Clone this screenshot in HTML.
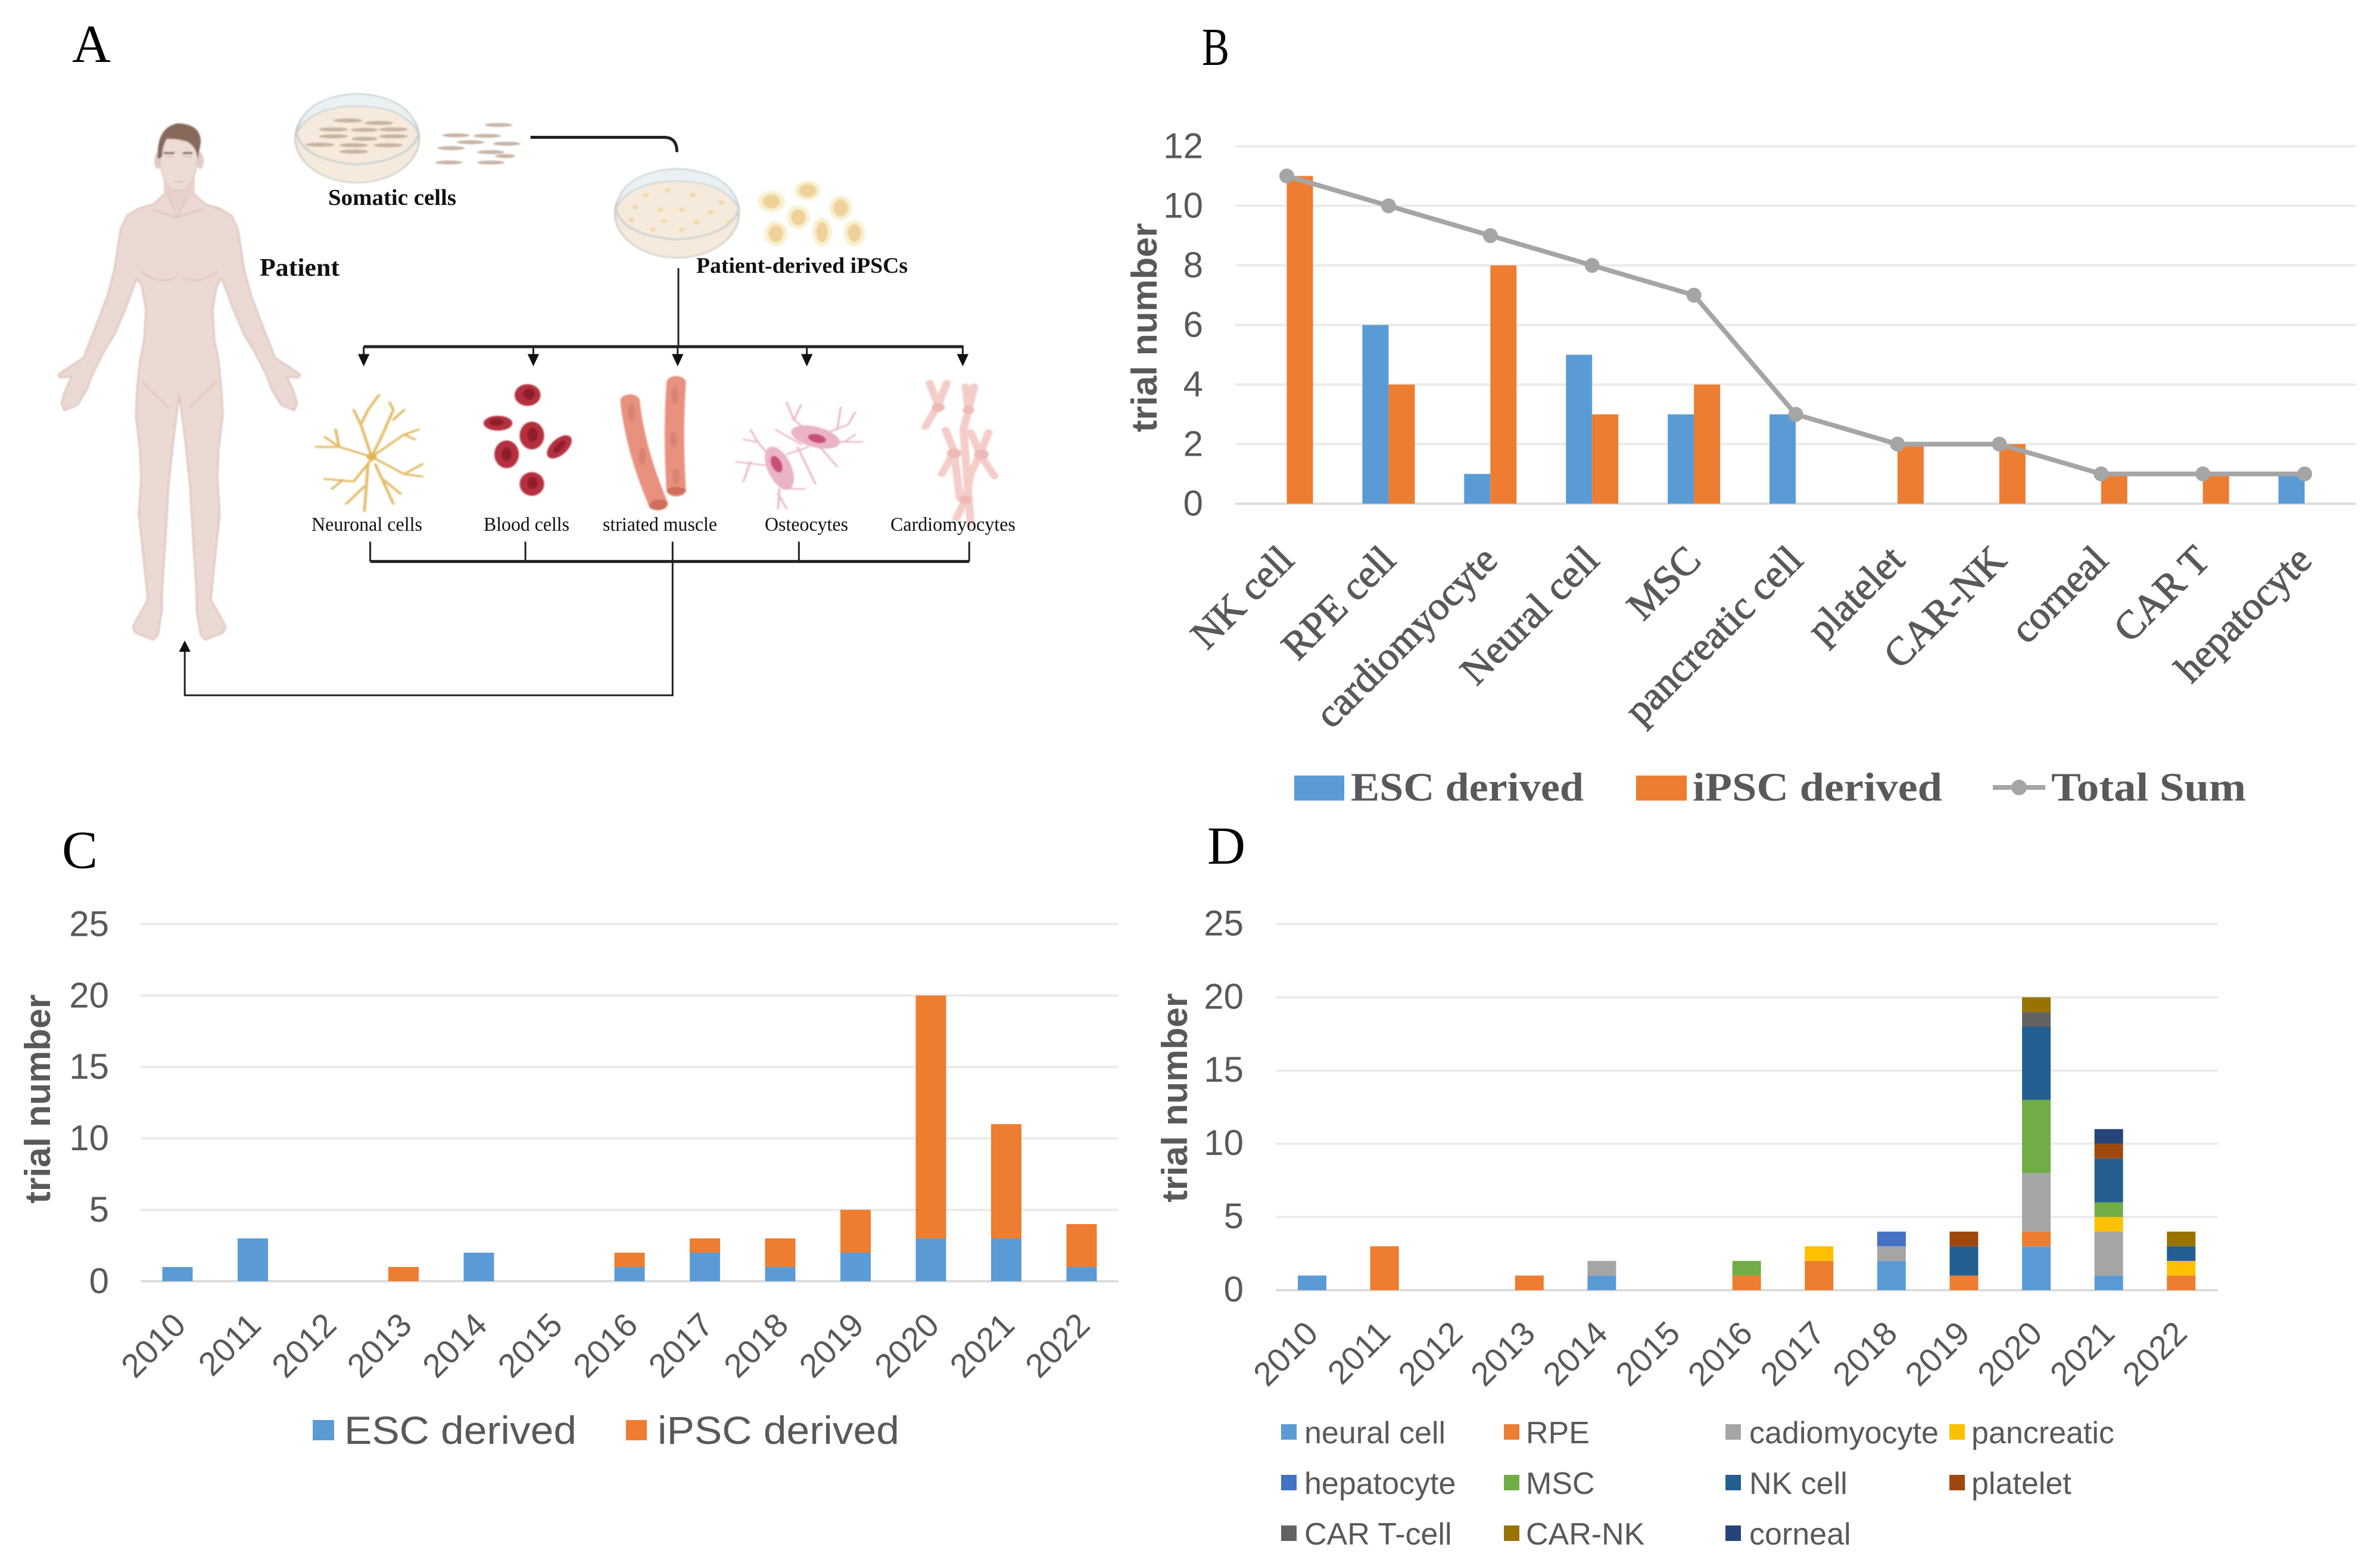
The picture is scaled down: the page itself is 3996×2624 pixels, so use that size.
<!DOCTYPE html>
<html lang="en">
<head>
<meta charset="utf-8">
<title>Stem cell derived trials figure</title>
<style>
html,body{margin:0;padding:0;background:#fff;width:3996px;height:2624px;overflow:hidden}
#figure{position:absolute;left:0;top:0;display:block}
.ax{font-family:"Liberation Sans",sans-serif;fill:#595959}
.se{font-family:"Liberation Serif",serif;fill:#595959}
.lbl{font-family:"Liberation Serif",serif;fill:#111}
.letter{font-family:"Liberation Serif",serif;fill:#000;font-size:90px}
</style>
</head>
<body>
<svg id="figure" xmlns="http://www.w3.org/2000/svg" width="3996" height="2624" viewBox="0 0 3996 2624">
<rect width="3996" height="2624" fill="#ffffff"/>

<text class="letter" x="121" y="104">A</text>
<text class="letter" x="2018" y="109" textLength="46" lengthAdjust="spacingAndGlyphs">B</text>
<text class="letter" x="104" y="1457">C</text>
<text class="letter" x="2027" y="1450" textLength="64" lengthAdjust="spacingAndGlyphs">D</text>

<g id="panel-a">
 <g style="filter:blur(1.2px)">
  <g fill="#ebd9d4" stroke="#e2c7c1" stroke-width="3" stroke-linejoin="round">
   <path d="M301 330 L275 327 L257 343 L233 350 L213 362 L203 383 L198 413 L192 453 L180 497 L160 550 L140 601 L118 615 L98 629 L101 634 L120 632 L108 660 L103 677 L108 689 L130 680 L145 655 L157 625 L175 590 L193 560 L210 520 L230 467 L238 480 L245 520 L243 553 L242 570 L235 605 L230 656 L228 698 L235 756 L237 801 L233 863 L238 910 L243 956 L248 1007 L235 1030 L223 1052 L227 1062 L257 1074 L265 1066 L272 1024 L272 997 L280 870 L283 815 L292 732 L300 670 L302 667 Z"/>
   <path transform="translate(602 0) scale(-1 1)" d="M301 330 L275 327 L257 343 L233 350 L213 362 L203 383 L198 413 L192 453 L180 497 L160 550 L140 601 L118 615 L98 629 L101 634 L120 632 L108 660 L103 677 L108 689 L130 680 L145 655 L157 625 L175 590 L193 560 L210 520 L230 467 L238 480 L245 520 L243 553 L242 570 L235 605 L230 656 L228 698 L235 756 L237 801 L233 863 L238 910 L243 956 L248 1007 L235 1030 L223 1052 L227 1062 L257 1074 L265 1066 L272 1024 L272 997 L280 870 L283 815 L292 732 L300 670 L302 667 Z"/>
  </g>
  <rect x="276" y="330" width="50" height="330" fill="#ebd9d4"/>
  <path d="M275 293 H327 V327 L300 355 L275 327Z" fill="#e8d2cc"/>
  <ellipse cx="265" cy="270" rx="6" ry="14" fill="#e3cbc5"/><ellipse cx="336" cy="270" rx="6" ry="14" fill="#e3cbc5"/>
  <path d="M268 250 Q268 300 286 316 Q300 324 314 316 Q332 300 332 250 Q330 215 300 212 Q270 215 268 250Z" fill="#ecdcd6" stroke="#e0c8c1" stroke-width="2"/>
  <path d="M265 267 Q262 214 298 207 Q338 208 337 240 L332 267 Q330 245 313 237 Q295 232 280 233 Q272 245 272 263Z" fill="#86695a"/>
  <path d="M275 257 H293 M307 257 H323" stroke="#7f6a60" stroke-width="3" fill="none"/>
  <path d="M278 263 H292 M308 263 H322 M292 305 H308" stroke="#cfb7af" stroke-width="1.5" fill="none"/>
  <path d="M255 352 L298 365 L343 350 M283 330 L298 365 L313 330 M235 455 Q270 480 296 465 M366 455 Q332 480 306 465 M238 640 L284 685 M364 640 L318 685" fill="none" stroke="#dcc0b9" stroke-width="2"/>
 </g>

 <g transform="scale(1.2117 0.829)" style="filter:blur(1.2px)">
  <g>
   <ellipse cx="495" cy="280" rx="86" ry="90" fill="#f5eadb" stroke="#cfcdc8" stroke-width="2.5"/>
   <path d="M411 270 Q420 195 495 190 Q570 195 580 270 Q560 215 495 215 Q430 215 411 270Z" fill="#e9f1f2" stroke="#c5ced2" stroke-width="2"/>
   <path d="M411 270 Q420 325 495 333 Q570 325 580 270" fill="none" stroke="#c9cfd0" stroke-width="3"/>
   <g fill="#bfa999" opacity="0.85">
    <ellipse cx="482" cy="244" rx="20" ry="4"/><ellipse cx="525" cy="249" rx="20" ry="4"/><ellipse cx="462" cy="262" rx="20" ry="4"/><ellipse cx="505" cy="263" rx="19" ry="4"/><ellipse cx="545" cy="262" rx="20" ry="4"/><ellipse cx="462" cy="276" rx="20" ry="4"/><ellipse cx="505" cy="281" rx="18" ry="4"/><ellipse cx="545" cy="276" rx="20" ry="4"/><ellipse cx="443" cy="293" rx="20" ry="4"/><ellipse cx="490" cy="294" rx="20" ry="4"/><ellipse cx="538" cy="294" rx="20" ry="4"/><ellipse cx="490" cy="307" rx="20" ry="4"/>
   </g>
  </g>
  <g fill="#c9b5a6">
   <ellipse cx="691" cy="253" rx="19" ry="4"/><ellipse cx="632" cy="274" rx="19" ry="4"/><ellipse cx="675" cy="275" rx="19" ry="4"/><ellipse cx="652" cy="288" rx="19" ry="4"/><ellipse cx="702" cy="291" rx="19" ry="4"/><ellipse cx="625" cy="300" rx="19" ry="4"/><ellipse cx="680" cy="308" rx="19" ry="4"/><ellipse cx="700" cy="316" rx="14" ry="4"/><ellipse cx="622" cy="329" rx="19" ry="4"/><ellipse cx="680" cy="329" rx="19" ry="4"/>
  </g>

  <g>
   <ellipse cx="938" cy="432" rx="86" ry="90" fill="#f5eadb" stroke="#cfcdc8" stroke-width="2.5"/>
   <path d="M853 422 Q862 347 938 342 Q1014 347 1024 422 Q1003 367 938 367 Q873 367 853 422Z" fill="#e9f1f2" stroke="#c5ced2" stroke-width="2"/>
   <path d="M853 422 Q862 477 938 485 Q1014 477 1024 422" fill="none" stroke="#c9cfd0" stroke-width="3"/>
   <g fill="#f0d7a8">
    <circle cx="895" cy="395" r="4"/><circle cx="925" cy="385" r="4"/><circle cx="960" cy="395" r="4"/><circle cx="1000" cy="410" r="4"/><circle cx="880" cy="420" r="4"/><circle cx="915" cy="425" r="4"/><circle cx="945" cy="425" r="4"/><circle cx="985" cy="430" r="4"/><circle cx="875" cy="445" r="4"/><circle cx="920" cy="448" r="4"/><circle cx="965" cy="450" r="4"/><circle cx="1010" cy="450" r="4"/><circle cx="905" cy="465" r="4"/><circle cx="945" cy="465" r="4"/>
   </g>
  </g>
  <g>
   <g fill="#f8f0d0">
    <ellipse cx="1069" cy="408" rx="19" ry="22"/><ellipse cx="1119" cy="386" rx="18" ry="20"/><ellipse cx="1165" cy="421" rx="16" ry="25"/><ellipse cx="1106" cy="440" rx="16" ry="24"/><ellipse cx="1075" cy="473" rx="16" ry="25"/><ellipse cx="1139" cy="470" rx="14" ry="29"/><ellipse cx="1184" cy="472" rx="15" ry="27"/>
   </g>
   <g fill="#efd29a">
    <ellipse cx="1069" cy="408" rx="12" ry="14"/><ellipse cx="1119" cy="386" rx="12" ry="13"/><ellipse cx="1165" cy="421" rx="10" ry="17"/><ellipse cx="1106" cy="440" rx="10" ry="16"/><ellipse cx="1075" cy="473" rx="10" ry="17"/><ellipse cx="1139" cy="470" rx="8" ry="20"/><ellipse cx="1184" cy="472" rx="9" ry="18"/>
   </g>
  </g>

  <g fill="none" stroke="#e3bd6a" stroke-width="4" stroke-linecap="round" stroke-linejoin="round">
   <path d="M515 925 L500 860 L490 830 M500 860 L510 830 L525 800 M515 925 L530 880 L545 830 L540 815 M545 850 L560 830 M520 920 L560 880 L580 870 M560 880 L575 890 M515 925 L470 905 L438 905 M470 905 L450 885 M470 905 L465 870 M515 925 L560 960 L585 940 M560 960 L585 965 M515 930 L490 975 L450 970 M475 972 L460 990 M510 940 L505 1035 M505 985 L480 1020 M520 940 L545 1020 M530 970 L555 1000"/>
   <circle cx="515" cy="925" r="7" fill="#dfb54f" stroke="none"/>
  </g>

  <g fill="#b5303f">
   <ellipse cx="731" cy="800" rx="18" ry="22"/><ellipse cx="690" cy="857" rx="20" ry="15"/><ellipse cx="737" cy="882" rx="17" ry="28"/><ellipse cx="702" cy="920" rx="17" ry="28"/><ellipse cx="775" cy="905" rx="13" ry="26" transform="rotate(30 775 905)"/><ellipse cx="737" cy="980" rx="17" ry="24"/>
   <g fill="#8f1d2c"><ellipse cx="733" cy="798" rx="8" ry="11"/><ellipse cx="688" cy="855" rx="10" ry="7"/><ellipse cx="738" cy="880" rx="7" ry="14"/><ellipse cx="702" cy="920" rx="7" ry="14"/><ellipse cx="775" cy="905" rx="5" ry="14" transform="rotate(30 775 905)"/><ellipse cx="738" cy="978" rx="7" ry="12"/></g>
  </g>

  <g>
   <g fill="none" stroke="#e8917e" stroke-width="27" stroke-linecap="round">
    <path d="M873 812 Q880 910 912 1020"/>
    <path d="M937 775 Q932 880 937 992"/>
   </g>
   <ellipse cx="912" cy="1022" rx="13" ry="10" fill="#cf6e5a" transform="rotate(-20 912 1022)"/>
   <ellipse cx="937" cy="994" rx="13" ry="8" fill="#cf6e5a"/>
   <g fill="#d98472"><ellipse cx="875" cy="835" rx="5" ry="18"/><ellipse cx="890" cy="925" rx="5" ry="18"/><ellipse cx="935" cy="800" rx="5" ry="18"/><ellipse cx="933" cy="890" rx="5" ry="16"/><ellipse cx="937" cy="965" rx="5" ry="16"/></g>
  </g>

  <g>
   <g fill="none" stroke="#ecb9c9" stroke-width="3" stroke-linecap="round">
    <path d="M1130 885 L1100 850 L1090 815 M1100 850 L1110 820 M1130 885 L1175 860 L1185 835 M1160 870 L1165 825 M1140 895 L1195 895 M1170 895 L1185 880 M1130 895 L1160 945 M1110 900 L1075 870 M1105 905 L1130 980 M1078 945 L1050 895 L1030 890 M1050 895 L1040 870 M1075 945 L1020 935 M1040 935 L1030 975 M1085 990 L1115 990 M1080 990 L1078 1030 M1078 1000 L1090 1030 M1090 920 L1120 905"/>
   </g>
   <ellipse cx="1130" cy="885" rx="36" ry="20" fill="#eab4c6" transform="rotate(25 1130 885)"/>
   <ellipse cx="1080" cy="948" rx="17" ry="45" fill="#eab4c6" transform="rotate(-15 1080 948)"/>
   <ellipse cx="1132" cy="888" rx="13" ry="8" fill="#c94f73" transform="rotate(25 1132 888)"/>
   <ellipse cx="1076" cy="940" rx="7" ry="17" fill="#c94f73" transform="rotate(-15 1076 940)"/>
  </g>

  <g fill="none" stroke="#f4cdc9" stroke-width="11" stroke-linecap="round" stroke-linejoin="round">
   <path d="M1288 775 L1300 820 L1312 775 M1300 820 L1282 865 M1338 782 L1342 830 L1350 782 M1342 830 L1335 870 L1345 1060 M1310 870 L1322 915 L1305 960 M1322 915 L1330 1010 M1370 875 L1358 920 L1378 965 M1345 875 L1358 920 L1345 960 L1338 1010 L1325 1050"/>
   <circle cx="1300" cy="825" r="9" fill="#efb9b6" stroke="none"/><circle cx="1342" cy="830" r="8" fill="#efb9b6" stroke="none"/><circle cx="1322" cy="918" r="10" fill="#efb9b6" stroke="none"/><circle cx="1360" cy="920" r="10" fill="#efb9b6" stroke="none"/><circle cx="1338" cy="1012" r="9" fill="#efb9b6" stroke="none"/>
  </g>
 </g>

 <g transform="scale(1.2117 0.829)" fill="none" stroke="#222" stroke-width="3">
  <path vector-effect="non-scaling-stroke" stroke-width="5" d="M735 278 L920 278 Q938 278 938 308"/>
  <path vector-effect="non-scaling-stroke" d="M940 543 L940 702"/>
  <path vector-effect="non-scaling-stroke" stroke-width="5" d="M504 702 L1335 702"/>
  <path vector-effect="non-scaling-stroke" d="M504 702 V725 M739 702 V725 M939 702 V725 M1118 702 V725 M1334 702 V725"/>
  <path fill="#111" stroke="none" d="M496 717 H512 L504 742Z M731 717 H747 L739 742Z M931 717 H947 L939 742Z M1110 717 H1126 L1118 742Z M1326 717 H1342 L1334 742Z"/>
  <path vector-effect="non-scaling-stroke" d="M513 1097 V1137 M728 1097 V1137 M1107 1097 V1137 M1343 1097 V1137"/>
  <path vector-effect="non-scaling-stroke" stroke-width="5" d="M513 1137 H1343"/>
  <path vector-effect="non-scaling-stroke" d="M932 1097 V1408 H256 V1315"/>
  <path fill="#111" stroke="none" d="M248 1320 H264 L256 1297Z"/>
 </g>

 <text class="lbl" x="551" y="344" font-size="38" font-weight="bold" textLength="215" lengthAdjust="spacingAndGlyphs">Somatic cells</text>
 <text class="lbl" x="436" y="463" font-size="42" font-weight="bold" textLength="134" lengthAdjust="spacingAndGlyphs">Patient</text>
 <text class="lbl" x="1169" y="458" font-size="37" font-weight="bold" textLength="355" lengthAdjust="spacingAndGlyphs">Patient-derived iPSCs</text>
 <text class="lbl" x="523" y="891" font-size="33" textLength="186" lengthAdjust="spacingAndGlyphs">Neuronal cells</text>
 <text class="lbl" x="812" y="891" font-size="33" textLength="144" lengthAdjust="spacingAndGlyphs">Blood cells</text>
 <text class="lbl" x="1012" y="891" font-size="33" textLength="192" lengthAdjust="spacingAndGlyphs">striated muscle</text>
 <text class="lbl" x="1284" y="891" font-size="33" textLength="140" lengthAdjust="spacingAndGlyphs">Osteocytes</text>
 <text class="lbl" x="1495" y="891" font-size="33" textLength="210" lengthAdjust="spacingAndGlyphs">Cardiomyocytes</text>
</g>

<g id="panel-b">
 <text class="ax" transform="translate(1942 550) rotate(-90)" text-anchor="middle" font-size="60" font-weight="bold" textLength="351" lengthAdjust="spacingAndGlyphs">trial number</text>
 <g>
  <rect x="2173" y="1302" width="84" height="42" fill="#5b9bd5"/>
  <text class="se" x="2268" y="1344" font-size="68" font-weight="bold" textLength="391" lengthAdjust="spacingAndGlyphs">ESC derived</text>
  <rect x="2747" y="1302" width="85" height="42" fill="#ed7d31"/>
  <text class="se" x="2842" y="1344" font-size="68" font-weight="bold" textLength="419" lengthAdjust="spacingAndGlyphs">iPSC derived</text>
  <line x1="3346" y1="1322" x2="3434" y2="1322" stroke="#a5a5a5" stroke-width="8"/>
  <circle cx="3390" cy="1322" r="13" fill="#a5a5a5"/>
  <text class="se" x="3444" y="1344" font-size="68" font-weight="bold" textLength="327" lengthAdjust="spacingAndGlyphs">Total Sum</text>
 </g>
</g>

<g id="panel-c">
 <text class="ax" transform="translate(84 1845) rotate(-90)" text-anchor="middle" font-size="60" font-weight="bold" textLength="351" lengthAdjust="spacingAndGlyphs">trial number</text>
 <g>
  <rect x="525" y="2384" width="36" height="34" fill="#5b9bd5"/>
  <text class="ax" x="578" y="2424" font-size="66" textLength="390" lengthAdjust="spacingAndGlyphs">ESC derived</text>
  <rect x="1051" y="2384" width="35" height="34" fill="#ed7d31"/>
  <text class="ax" x="1104" y="2424" font-size="66" textLength="406" lengthAdjust="spacingAndGlyphs">iPSC derived</text>
 </g>
</g>

<g id="panel-d">
 <text class="ax" transform="translate(1993 1843) rotate(-90)" text-anchor="middle" font-size="60" font-weight="bold" textLength="351" lengthAdjust="spacingAndGlyphs">trial number</text>
 <g font-size="52">
  <rect x="2151" y="2391" width="26" height="26" fill="#5b9bd5"/>
  <text class="ax" x="2190" y="2423">neural cell</text>
  <rect x="2525" y="2391" width="26" height="26" fill="#ed7d31"/>
  <text class="ax" x="2562" y="2423">RPE</text>
  <rect x="2897" y="2391" width="26" height="26" fill="#a5a5a5"/>
  <text class="ax" x="2937" y="2423">cadiomyocyte</text>
  <rect x="3273" y="2391" width="26" height="26" fill="#ffc000"/>
  <text class="ax" x="3310" y="2423">pancreatic</text>
  <rect x="2151" y="2476" width="26" height="26" fill="#4472c4"/>
  <text class="ax" x="2190" y="2508">hepatocyte</text>
  <rect x="2525" y="2476" width="26" height="26" fill="#70ad47"/>
  <text class="ax" x="2562" y="2508">MSC</text>
  <rect x="2897" y="2476" width="26" height="26" fill="#255e91"/>
  <text class="ax" x="2937" y="2508">NK cell</text>
  <rect x="3273" y="2476" width="26" height="26" fill="#9e480e"/>
  <text class="ax" x="3310" y="2508">platelet</text>
  <rect x="2151" y="2561" width="26" height="26" fill="#636363"/>
  <text class="ax" x="2190" y="2593">CAR T-cell</text>
  <rect x="2525" y="2561" width="26" height="26" fill="#997300"/>
  <text class="ax" x="2562" y="2593">CAR-NK</text>
  <rect x="2897" y="2561" width="26" height="26" fill="#264478"/>
  <text class="ax" x="2937" y="2593">corneal</text>
 </g>
</g>
</svg>

<script>
// Panel B data
const bCategories = ['NK cell','RPE cell','cardiomyocyte','Neural cell','MSC','pancreatic cell','platelet','CAR-NK','corneal','CAR T','hepatocyte'];
const bEsc = [0,6,1,5,3,3,0,0,0,0,1];
const bIpsc = [11,4,8,3,4,0,2,2,1,1,0];
const bTotal = [11,10,9,8,7,3,2,2,1,1,1];
const bTicks = [0,2,4,6,8,10,12];

// Panel C data
const cYears = ['2010','2011','2012','2013','2014','2015','2016','2017','2018','2019','2020','2021','2022'];
const cEsc = [1,3,0,0,2,0,1,2,1,2,3,3,1];
const cIpsc = [0,0,0,1,0,0,1,1,2,3,17,8,3];
const cTicks = [0,5,10,15,20,25];

// Panel D data
const dYears = ['2010','2011','2012','2013','2014','2015','2016','2017','2018','2019','2020','2021','2022'];
const dNeural =     [1,0,0,0,1,0,0,0,2,0,3,1,0];
const dRpe =        [0,3,0,1,0,0,1,2,0,1,1,0,1];
const dCardio =     [0,0,0,0,1,0,0,0,1,0,4,3,0];
const dPancreatic = [0,0,0,0,0,0,0,1,0,0,0,1,1];
const dHepatocyte = [0,0,0,0,0,0,0,0,1,0,0,0,0];
const dMsc =        [0,0,0,0,0,0,1,0,0,0,5,1,0];
const dNk =         [0,0,0,0,0,0,0,0,0,2,5,3,1];
const dPlatelet =   [0,0,0,0,0,0,0,0,0,1,0,1,0];
const dCarT =       [0,0,0,0,0,0,0,0,0,0,1,0,0];
const dCarNk =      [0,0,0,0,0,0,0,0,0,0,1,0,1];
const dCorneal =    [0,0,0,0,0,0,0,0,0,0,0,1,0];
const dSeriesValues = [dNeural,dRpe,dCardio,dPancreatic,dHepatocyte,dMsc,dNk,dPlatelet,dCarT,dCarNk,dCorneal];
const dSeriesKeys = ['neural','rpe','cardiomyocyte','pancreatic','hepatocyte','msc','nk-cell','platelet','car-t-cell','car-nk','corneal'];
const dSeriesColors = ['#5b9bd5','#ed7d31','#a5a5a5','#ffc000','#4472c4','#70ad47','#255e91','#9e480e','#636363','#997300','#264478'];
const dTicks = [0,5,10,15,20,25];

const SVG_NS = 'http://www.w3.org/2000/svg';
function mk(tag, attrs, parent) {
  const el = document.createElementNS(SVG_NS, tag);
  for (const k in attrs) el.setAttribute(k, attrs[k]);
  parent.appendChild(el);
  return el;
}

// Axis functions
function bY(v) { return 845.6 - v * (845.6 - 245.5) / 12; }
function bX(i) { return 2160.5 + i * 170.9; }
function cY(v) { return 2151 - v * (2151 - 1551.4) / 25; }
function cX(i) { return 298 + i * 126.5; }
function dY(v) { return 2166 - v * (2166 - 1551.4) / 25; }
function dX(i) { return 2203 + i * 121.6; }

function drawGrid(panel, prefix, ticks, yFn, x1, x2, labelRight, labelShift) {
  const g = mk('g', {}, panel);
  
  
  ticks.forEach(function (t) {
    const line = mk('line', {x1: x1, x2: x2, y1: yFn(t), y2: yFn(t), stroke: t === 0 ? '#dcdcdc' : '#ebebeb', 'stroke-width': 4}, g);
    
    
    const label = mk('text', {x: labelRight, y: yFn(t) + labelShift, 'text-anchor': 'end', 'font-size': 60, 'class': 'ax'}, g);
    label.textContent = String(t);
    
    
  });
}

function drawCategoryLabels(panel, prefix, cats, xFn, dx, y, cls, size, extra) {
  const g = mk('g', {}, panel);
  
  
  cats.forEach(function (c, i) {
    const px = xFn(i) + dx;
    const attrs = Object.assign({'transform': 'translate(' + px + ' ' + y + ') rotate(-45)', 'text-anchor': 'end', 'font-size': size, 'class': cls}, extra);
    const label = mk('text', attrs, g);
    label.textContent = c;
    
    
  });
}

// Panel B
(function () {
  const panel = document.getElementById('panel-b');
  drawGrid(panel, 'b', bTicks, bY, 2074, 3956, 2020, 20);
  const barWidth = 44;
  bCategories.forEach(function (c, i) {
    if (bEsc[i] > 0) {
      const r = mk('rect', {x: bX(i) - barWidth, y: bY(bEsc[i]), width: barWidth, height: bY(0) - bY(bEsc[i]), fill: '#5b9bd5'}, panel);
      
      
    }
    if (bIpsc[i] > 0) {
      const r2 = mk('rect', {x: bX(i), y: bY(bIpsc[i]), width: barWidth, height: bY(0) - bY(bIpsc[i]), fill: '#ed7d31'}, panel);
      
      
    }
  });
  const pts = bTotal.map(function (v, i) { return bX(i) + ',' + bY(v); }).join(' ');
  const line = mk('polyline', {points: pts, fill: 'none', stroke: '#a5a5a5', 'stroke-width': 8, 'stroke-linejoin': 'round'}, panel);
  
  
  bTotal.forEach(function (v, i) {
    const p = mk('circle', {cx: bX(i), cy: bY(v), r: 12.5, fill: '#a5a5a5'}, panel);
    
    
  });
  drawCategoryLabels(panel, 'b', bCategories, bX, 15, 944, 'se', 67, {'stroke': '#595959', 'stroke-width': 1.3});
})();

// Panel C
(function () {
  const panel = document.getElementById('panel-c');
  drawGrid(panel, 'c', cTicks, cY, 236, 1878, 183, 20);
  const barWidth = 51;
  cYears.forEach(function (yr, i) {
    if (cEsc[i] > 0) {
      const r = mk('rect', {x: cX(i) - barWidth / 2, y: cY(cEsc[i]), width: barWidth, height: cY(0) - cY(cEsc[i]), fill: '#5b9bd5'}, panel);
      
      
    }
    if (cIpsc[i] > 0) {
      const r2 = mk('rect', {x: cX(i) - barWidth / 2, y: cY(cEsc[i] + cIpsc[i]), width: barWidth, height: cY(cEsc[i]) - cY(cEsc[i] + cIpsc[i]), fill: '#ed7d31'}, panel);
      
      
    }
  });
  drawCategoryLabels(panel, 'c', cYears, cX, 17, 2228, 'ax', 56, {});
})();

// Panel D
(function () {
  const panel = document.getElementById('panel-d');
  drawGrid(panel, 'd', dTicks, dY, 2142, 3724, 2088, 19);
  const barWidth = 48;
  dYears.forEach(function (yr, i) {
    let base = 0;
    dSeriesValues.forEach(function (series, s) {
      const v = series[i];
      if (v > 0) {
        const r = mk('rect', {x: dX(i) - barWidth / 2, y: dY(base + v), width: barWidth, height: dY(base) - dY(base + v), fill: dSeriesColors[s]}, panel);
        
        
        base += v;
      }
    });
  });
  drawCategoryLabels(panel, 'd', dYears, dX, 13, 2242, 'ax', 56, {});
})();
</script>
</body>
</html>
